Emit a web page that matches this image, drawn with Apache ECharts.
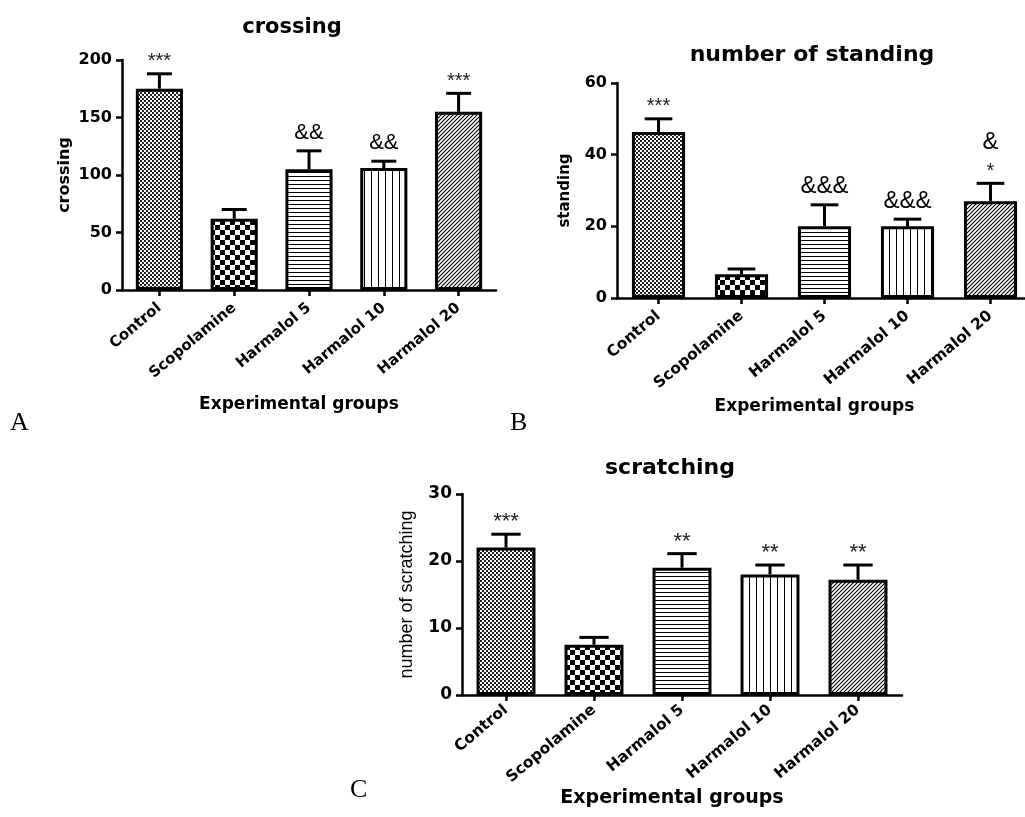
<!DOCTYPE html>
<html><head><meta charset="utf-8">
<script src="https://cdn.jsdelivr.net/npm/echarts@6/dist/echarts.min.js"></script>
<style>html,body{margin:0;padding:0;background:#fff}#c{width:1025px;height:817px}</style>
</head><body><div id="c"></div>
<script>
// ---------- data ----------
const categories = ['Control', 'Scopolamine', 'Harmalol 5', 'Harmalol 10', 'Harmalol 20'];

const crossingMean = [175, 62, 105, 106, 155];
const crossingSem  = [13, 8, 16, 6, 16];
const crossingStars = ['***', '', '', '', '***'];
const crossingAmps  = ['', '', '&&', '&&', ''];
const crossingTicks = { min: 0, max: 200, interval: 50 };

const standingMean = [46.3, 6.6, 20, 20, 27];
const standingSem  = [3.7, 1.5, 6, 2, 5];
const standingStars = ['***', '', '', '', '*'];
const standingAmps  = ['', '', '&&&', '&&&', '&'];
const standingTicks = { min: 0, max: 60, interval: 20 };

const scratchMean = [22, 7.5, 19, 18, 17.2];
const scratchSem  = [2, 1.1, 2.1, 1.4, 2.2];
const scratchStars = ['***', '', '**', '**', '**'];
const scratchAmps  = ['', '', '', '', ''];
const scratchTicks = { min: 0, max: 30, interval: 10 };

// ---------- fill patterns ----------
function makePattern(kind) {
  const c = document.createElement('canvas');
  let s = 4;
  if (kind === 'coarse') s = 10;
  if (kind === 'vlines') s = 7;
  c.width = s; c.height = s;
  const g = c.getContext('2d');
  g.fillStyle = '#fff'; g.fillRect(0, 0, s, s);
  g.fillStyle = '#000'; g.strokeStyle = '#000';
  if (kind === 'fine') { g.fillStyle = '#222'; g.fillRect(0, 0, 2, 2); g.fillRect(2, 2, 2, 2); }
  else if (kind === 'coarse') { g.fillRect(0, 0, 5, 5); g.fillRect(5, 5, 5, 5); }
  else if (kind === 'hlines') { g.fillRect(0, 0, s, 1); }
  else if (kind === 'vlines') { g.fillRect(0, 0, 1, s); }
  else if (kind === 'diag') {
    g.lineWidth = 1.1;
    g.beginPath();
    g.moveTo(0, s); g.lineTo(s, 0);
    g.moveTo(-1, 1); g.lineTo(1, -1);
    g.moveTo(s - 1, s + 1); g.lineTo(s + 1, s - 1);
    g.stroke();
  }
  return { image: c, repeat: 'repeat' };
}
const patterns = ['fine', 'coarse', 'hlines', 'vlines', 'diag'].map(makePattern);

// ---------- helpers ----------
const BOLD = '"DejaVu Sans"';
const grids = [
  { left: 122, top: 60, width: 374, height: 230 },
  { left: 617, top: 83, width: 415, height: 215 },
  { left: 462, top: 494, width: 440, height: 201 }
];

function xAxisCfg(gi, nameGap, nameSize, labelSize, margin, shift) {
  return {
    gridIndex: gi, type: 'category', data: categories,
    axisLine: { show: true, lineStyle: { color: '#000', width: 2.5 } },
    axisTick: { show: true, alignWithLabel: true, length: 6, lineStyle: { color: '#000', width: 2.5 } },
    axisLabel: { interval: 0, rotate: 40, margin: margin, color: '#000', fontFamily: BOLD, fontWeight: 'bold', fontSize: labelSize },
    name: 'Experimental groups', nameLocation: 'middle', nameGap: nameGap,
    nameTextStyle: { color: '#000', fontFamily: BOLD, fontWeight: 'bold', fontSize: nameSize, padding: [0, shift, 0, 0] }
  };
}
function yAxisCfg(gi, ticks, name, nameGap, nameStyle, labelSize) {
  return {
    gridIndex: gi, type: 'value', min: ticks.min, max: ticks.max, interval: ticks.interval,
    axisLine: { show: true, lineStyle: { color: '#000', width: 2.5 } },
    axisTick: { show: true, length: 6, lineStyle: { color: '#000', width: 2.5 } },
    splitLine: { show: false },
    axisLabel: { margin: 10, color: '#000', fontFamily: BOLD, fontWeight: 'bold', fontSize: labelSize },
    name: name, nameLocation: 'middle', nameGap: nameGap,
    nameTextStyle: Object.assign({ color: '#000' }, nameStyle)
  };
}
function barSeries(gi, means, widthPct) {
  return {
    type: 'bar', xAxisIndex: gi, yAxisIndex: gi, barWidth: widthPct,
    data: means.map((v, i) => ({ value: v, itemStyle: { color: patterns[i] } })),
    itemStyle: { borderColor: '#000', borderWidth: 3 },
    emphasis: { disabled: true }, animation: false, z: 2
  };
}
function errSeries(gi, means, sems, stars, amps, starSize, ampSize) {
  return {
    type: 'custom', xAxisIndex: gi, yAxisIndex: gi, z: 3, animation: false,
    data: means.map((v, i) => [i, v, v + sems[i]]),
    encode: { x: 0, y: [1, 2] },
    renderItem: function (params, api) {
      const i = api.value(0);
      const p0 = api.coord([i, api.value(1)]);
      const p1 = api.coord([i, api.value(2)]);
      const half = api.size([1, 0])[0] * 0.167;
      const ch = [
        { type: 'line', shape: { x1: p0[0], y1: p0[1], x2: p1[0], y2: p1[1] }, style: { stroke: '#000', lineWidth: 3 } },
        { type: 'line', shape: { x1: p1[0] - half, y1: p1[1], x2: p1[0] + half, y2: p1[1] }, style: { stroke: '#000', lineWidth: 3 } }
      ];
      const st = stars[i], am = amps[i];
      if (st) ch.push({ type: 'text', x: p1[0], y: p1[1] - 12,
        style: { text: st, fill: '#222', font: starSize + 'px "Liberation Sans"', align: 'center', verticalAlign: 'middle' } });
      if (am) ch.push({ type: 'text', x: p1[0], y: p1[1] - (st ? 41 : 18),
        style: { text: am, fill: '#000', font: ampSize + 'px "Liberation Sans"', align: 'center', verticalAlign: 'middle' } });
      return { type: 'group', children: ch };
    }
  };
}

const titleStyle = (sz) => ({ color: '#000', fontFamily: BOLD, fontWeight: 'bold', fontSize: sz });

const option = {
  backgroundColor: '#fff',
  animation: false,
  title: [
    { text: 'crossing', left: 287, top: 12, textAlign: 'center', textStyle: titleStyle(21) },
    { text: 'number of standing', left: 807, top: 39, textAlign: 'center', textStyle: titleStyle(22) },
    { text: 'scratching', left: 665, top: 452, textAlign: 'center', textStyle: titleStyle(22) }
  ],
  grid: grids.map(g => Object.assign({ containLabel: false, outerBoundsMode: 'none' }, g)),
  xAxis: [
    xAxisCfg(0, 106, 17, 15, 16, 20),
    xAxisCfg(1, 100, 17, 15.5, 16, 20),
    xAxisCfg(2, 87, 19, 15.5, 13, 20)
  ],
  yAxis: [
    yAxisCfg(0, crossingTicks, 'crossing', 49, { fontFamily: BOLD, fontWeight: 'bold', fontSize: 16 }, 16),
    yAxisCfg(1, standingTicks, 'standing', 44, { fontFamily: BOLD, fontWeight: 'bold', fontSize: 15 }, 16),
    yAxisCfg(2, scratchTicks, 'number of scratching', 46, { fontFamily: '"Liberation Sans"', fontSize: 18 }, 17)
  ],
  graphic: [
    { type: 'text', left: 10, top: 410, style: { text: 'A', font: '26px "Liberation Serif"', fill: '#000' } },
    { type: 'text', left: 510, top: 410, style: { text: 'B', font: '26px "Liberation Serif"', fill: '#000' } },
    { type: 'text', left: 350, top: 777, style: { text: 'C', font: '26px "Liberation Serif"', fill: '#000' } }
  ],
  series: [
    barSeries(0, crossingMean, '63%'),
    errSeries(0, crossingMean, crossingSem, crossingStars, crossingAmps, 20, 22),
    barSeries(1, standingMean, '64%'),
    errSeries(1, standingMean, standingSem, standingStars, standingAmps, 20, 24),
    barSeries(2, scratchMean, '67%'),
    errSeries(2, scratchMean, scratchSem, scratchStars, scratchAmps, 22, 22)
  ]
};
const chart = echarts.init(document.getElementById('c'), null, { renderer: 'canvas' });
chart.setOption(option);
</script>
</body></html>
